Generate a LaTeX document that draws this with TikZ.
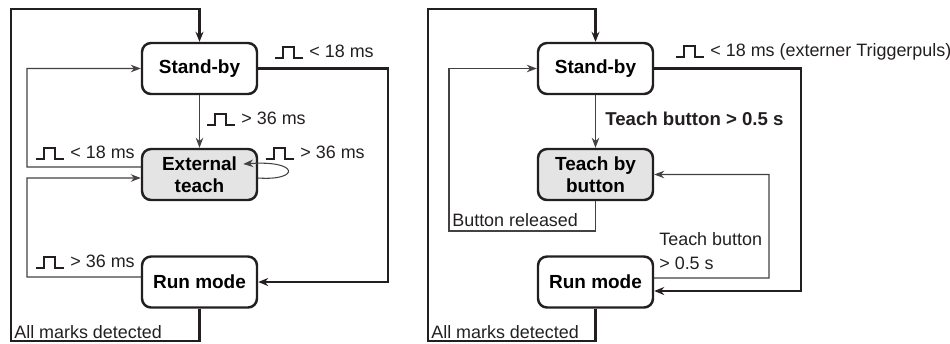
\documentclass[tikz,border=0pt]{standalone}
\usepackage{fontspec}
\setmainfont{Liberation Sans}
\usetikzlibrary{arrows.meta}

\definecolor{linegray}{HTML}{231F20}
\definecolor{boxfill}{HTML}{E4E4E4}

\newcommand{\pulse}{\tikz[baseline=0pt, x=1cm, y=1cm, line width=1.2pt, line join=miter]
  \draw[linegray] (0,0) -- (0.15,0) -- (0.15,0.21) -- (0.37,0.21) -- (0.37,0) -- (0.56,0);}

\begin{document}
\begin{tikzpicture}[x=0.02cm, y=-0.02cm,
    state/.style={draw=linegray, line width=1.4pt, rounded corners=0.18cm,
      minimum width=2.3cm, minimum height=1.02cm, align=center,
      font=\fontsize{10.8}{12.5}\selectfont\bfseries, inner sep=0pt},
    teach/.style={state, fill=boxfill},
    heavy/.style={draw=linegray, line width=1.6pt, -{Stealth[length=2mm,width=1.6mm]}},
    light/.style={draw=linegray!85, line width=0.6pt, -{Stealth[length=2mm,width=1.5mm]}},
    lbl/.style={anchor=west, inner sep=0pt, text=linegray, font=\fontsize{10.2}{13.6}\selectfont}]
    \useasboundingbox (0,0) rectangle (950,343);

    % external teach
    \node[state] (sb1) at (199.5,68.5) {Stand-by};
    \node[teach] (et) at (199.5,174.5) {External\\teach};
    \node[state] (rm1) at (199.5,282) {Run mode};

    \draw[heavy] (rm1.south) |- (11,341) -- (11,9) -| (sb1.north);
    \coordinate (r1) at (388,0);
    \draw[heavy] (sb1.east) -- (sb1.east -| r1) |- (rm1.east);
    \draw[light] (sb1) -- (et);
    \draw[light] ([yshift=0.15cm]et.west) -- (27,167) |- (sb1.west);
    \draw[light] ([yshift=0.1cm]rm1.west) -- (27,277) |- ([yshift=-0.07cm]et.west);
    \draw[light] ([yshift=-0.07cm]et.east) .. controls (300,181) and (300,160) .. ([xshift=-0.3cm,yshift=0.21cm]et.east);

    \node[lbl] (l1) at (274,52) {\pulse\ < 18 ms};
    \node[lbl] (l2) at (206,119) {\pulse\ > 36 ms};
    \node[lbl] (l3) at (35,153) {\pulse\ < 18 ms};
    \node[lbl] (l4) at (265,153) {\pulse\ > 36 ms};
    \node[lbl] (l5) at (35,262) {\pulse\ > 36 ms};
    \node[lbl] (l6) at (14,332) {All marks detected};

    % teach by button
    \node[state] (sb2) at (595.5,68.5) {Stand-by};
    \node[teach] (tb) at (595.5,174.5) {Teach by\\button};
    \node[state] (rm2) at (595.5,282) {Run mode};

    \draw[heavy] (rm2.south) |- (428,341) -- (428,9) -| (sb2.north);
    \coordinate (r2) at (801,0);
    \draw[heavy] (sb2.east) -- (sb2.east -| r2) |- ([yshift=-0.18cm]rm2.east);
    \draw[light] (sb2) -- (tb);
    \draw[light] ([yshift=0.08cm]rm2.east) -- (769,278) |- (tb.east);
    \draw[light] (tb.south) |- (449,231) |- (sb2.west);

    \node[lbl] (m1) at (675,52) {\pulse\ < 18 ms (externer Triggerpuls)};
    \node[lbl, font=\fontsize{10.6}{12}\selectfont\bfseries] (m2) at (605,119) {Teach button > 0.5 s};
    \node[lbl, anchor=north west, align=left] (m3) at (659,232) {Teach button\\> 0.5 s};
    \node[lbl] (m4) at (452,220) {Button released};
    \node[lbl] (m5) at (431,332) {All marks detected};
\end{tikzpicture}
\end{document}
